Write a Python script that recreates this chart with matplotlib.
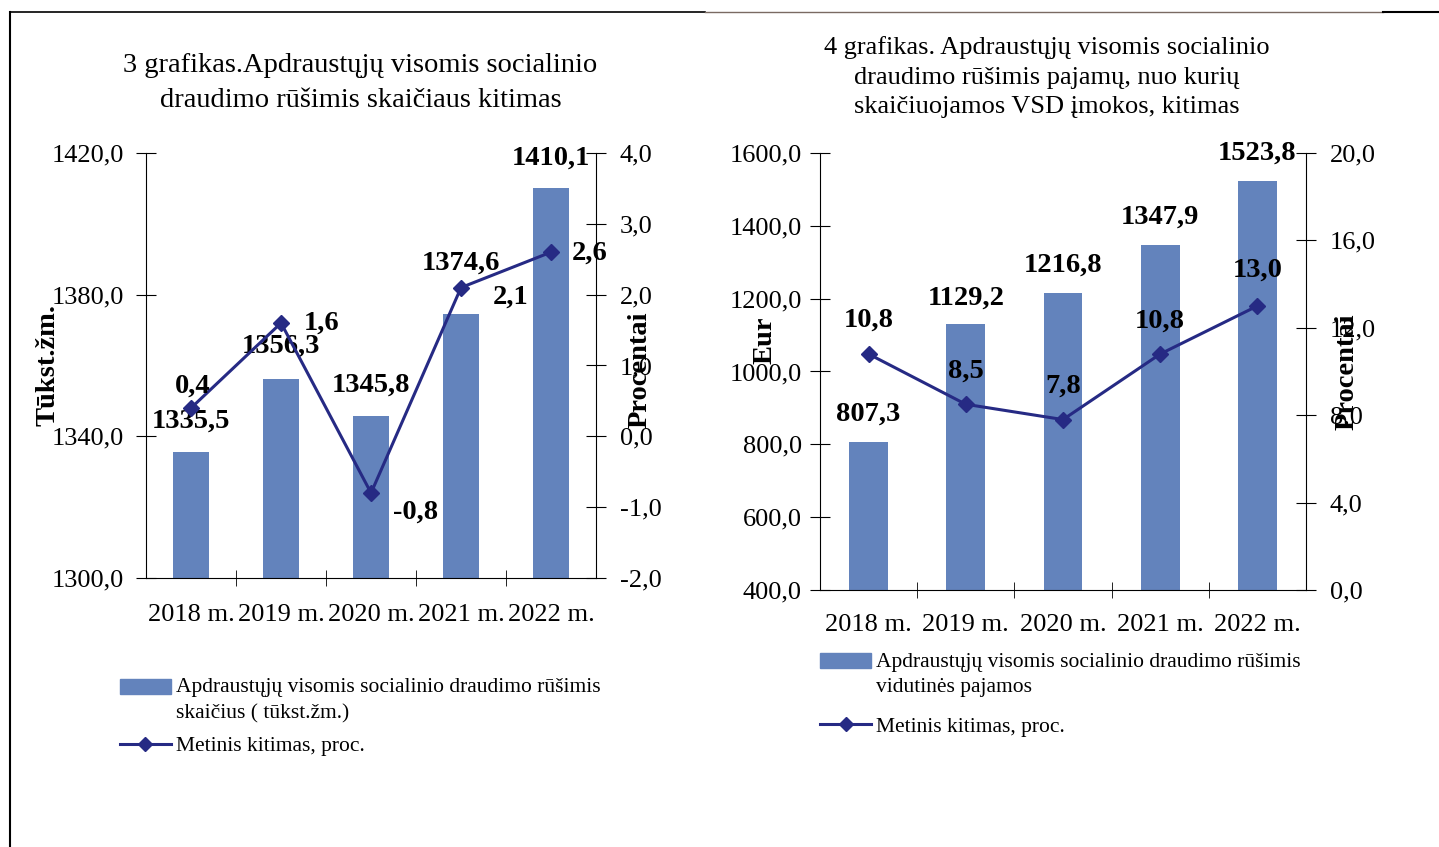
import matplotlib.pyplot as plt
from matplotlib.ticker import FuncFormatter, FixedLocator
from matplotlib.patches import Patch
from matplotlib.lines import Line2D
from matplotlib.legend_handler import HandlerPatch

plt.rcParams['font.family'] = ['Liberation Serif', 'DejaVu Serif']

# duomenys
metai = ['2018 m.', '2019 m.', '2020 m.', '2021 m.', '2022 m.']
apdraustieji = [1335.5, 1356.3, 1345.8, 1374.6, 1410.1]
apdr_kitimas = [0.4, 1.6, -0.8, 2.1, 2.6]
pajamos = [807.3, 1129.2, 1216.8, 1347.9, 1523.8]
paj_kitimas = [10.8, 8.5, 7.8, 10.8, 13.0]

bar_color = '#6383BC'
line_color = '#262A84'

# žymių poslinkiai (pikseliais)
apdr_bar_off = [(0, 31), (0, 32), (0, 31), (0, 51), (0, 30)]
apdr_line_off = [(2, 22), (41, 0), (45, -19), (50, -10), (39, -1)]
paj_bar_off = [(0, 28), (0, 26), (0, 27), (0, 28), (0, 28)]
paj_line_off = [(0, 34), (0, 33), (0, 33), (0, 33), (0, 36)]

comma = FuncFormatter(lambda v, p: ('%.1f' % v).replace('.', ','))


class TopPatch(HandlerPatch):
    # stačiakampis prie pirmos eilutės
    def create_artists(self, legend, orig_handle, xdescent, ydescent,
                       width, height, fontsize, trans):
        return super().create_artists(legend, orig_handle, xdescent,
                                      ydescent - 0.66 * fontsize, width,
                                      height, fontsize, trans)


def draw(rect, vals, pct, ylim, yticks, y2lim, y2ticks, ylabel, ylab_pos,
         y2lab_pos, bar_off, line_off, title, title_xy, title_fs, title_ls,
         leg_label, leg_pos, leg_space, pads):
    ax = fig.add_axes(rect)
    x = range(len(metai))
    ax.bar(x, vals, width=0.4, color=bar_color, zorder=2)
    ax.set_xlim(-0.5, 4.5)
    ax.set_ylim(*ylim)
    ax.set_yticks(yticks)
    ax.yaxis.set_major_formatter(comma)
    ax.set_xticks(list(x))
    ax.set_xticklabels(metai, fontsize=19)
    ax.xaxis.set_minor_locator(FixedLocator([0.5, 1.5, 2.5, 3.5]))
    ax.tick_params(axis='x', which='major', length=0, pad=pads[2])
    ax.tick_params(axis='x', which='minor', direction='inout', length=12)
    ax.tick_params(axis='y', direction='inout', length=14, labelsize=19,
                   pad=pads[0])
    ax.spines['top'].set_visible(False)
    ax.spines['right'].set_visible(False)
    ax.set_ylabel(ylabel, fontsize=20.5, fontweight='bold')
    ax.yaxis.set_label_coords(*ylab_pos)

    ax2 = ax.twinx()
    ax2.plot(x, pct, color=line_color, lw=2.2, marker='D', ms=8, zorder=3)
    ax2.set_ylim(*y2lim)
    ax2.set_yticks(y2ticks)
    ax2.yaxis.set_major_formatter(comma)
    ax2.tick_params(axis='y', direction='inout', length=14, labelsize=19,
                    pad=pads[1])
    for s in ['top', 'left', 'bottom']:
        ax2.spines[s].set_visible(False)
    ax2.set_ylabel('Procentai', fontsize=20.5, fontweight='bold')
    ax2.yaxis.set_label_coords(*y2lab_pos)

    for i, v in enumerate(vals):
        ax.annotate(('%.1f' % v).replace('.', ','), (i, v), xytext=bar_off[i],
                    textcoords='offset pixels', ha='center', va='center',
                    fontsize=20.5, fontweight='bold', zorder=5)
    for i, v in enumerate(pct):
        ax2.annotate(('%.1f' % v).replace('.', ','), (i, v), xytext=line_off[i],
                     textcoords='offset pixels', ha='center', va='center',
                     fontsize=20.5, fontweight='bold', zorder=5)

    fig.text(title_xy[0], title_xy[1], title, ha='center', va='center',
             fontsize=title_fs, linespacing=title_ls)

    handles = [Patch(color=bar_color),
               Line2D([], [], color=line_color, lw=2.2, marker='D', ms=7)]
    leg = fig.legend(handles, [leg_label, 'Metinis kitimas, proc.'],
                     loc='upper left', bbox_to_anchor=leg_pos, frameon=False,
                     fontsize=15.5, handlelength=2.35, handletextpad=0.25,
                     labelspacing=leg_space, borderpad=0, borderaxespad=0,
                     handler_map={Patch: TopPatch()})
    for t in leg.get_texts():
        t.set_linespacing(1.45)


fig = plt.figure(figsize=(14.39, 8.47), dpi=100)

draw([0.1015, 0.3176, 0.3127, 0.5018], apdraustieji, apdr_kitimas,
     (1300, 1420), [1300, 1340, 1380, 1420], (-2, 4), range(-2, 5),
     'Tūkst.žm.', (-0.19, 0.50), (1.071, 0.49),
     apdr_bar_off, apdr_line_off,
     '3 grafikas.Apdraustųjų visomis socialinio\ndraudimo rūšimis skaičiaus kitimas',
     (0.2505, 0.902), 20.5, 1.55,
     'Apdraustųjų visomis socialinio draudimo rūšimis\nskaičius ( tūkst.žm.)',
     (0.0834, 0.199), 0.6, (9, 10, 18.5))

draw([0.5698, 0.3034, 0.3378, 0.5160], pajamos, paj_kitimas,
     (400, 1600), range(400, 1601, 200), (0, 20), range(0, 21, 4),
     'Eur', (-0.088, 0.572), (1.059, 0.499),
     paj_bar_off, paj_line_off,
     '4 grafikas. Apdraustųjų visomis socialinio\ndraudimo rūšimis pajamų, nuo kurių\nskaičiuojamos VSD įmokos, kitimas',
     (0.7276, 0.909), 19, 1.45,
     'Apdraustųjų visomis socialinio draudimo rūšimis\nvidutinės pajamos',
     (0.570, 0.229), 0.9, (6, 10, 17))

# rėmelio linijos
fig.add_artist(Line2D([0.007, 0.007], [0, 0.986], color='black', lw=1.5))
fig.add_artist(Line2D([0.007, 0.49], [0.986, 0.986], color='black', lw=1.2))
fig.add_artist(Line2D([0.49, 0.961], [0.986, 0.986], color='#7a6a62', lw=1.0))
fig.add_artist(Line2D([0.961, 1.0], [0.986, 0.986], color='black', lw=1.5))

fig.savefig('out.png', dpi=100)
